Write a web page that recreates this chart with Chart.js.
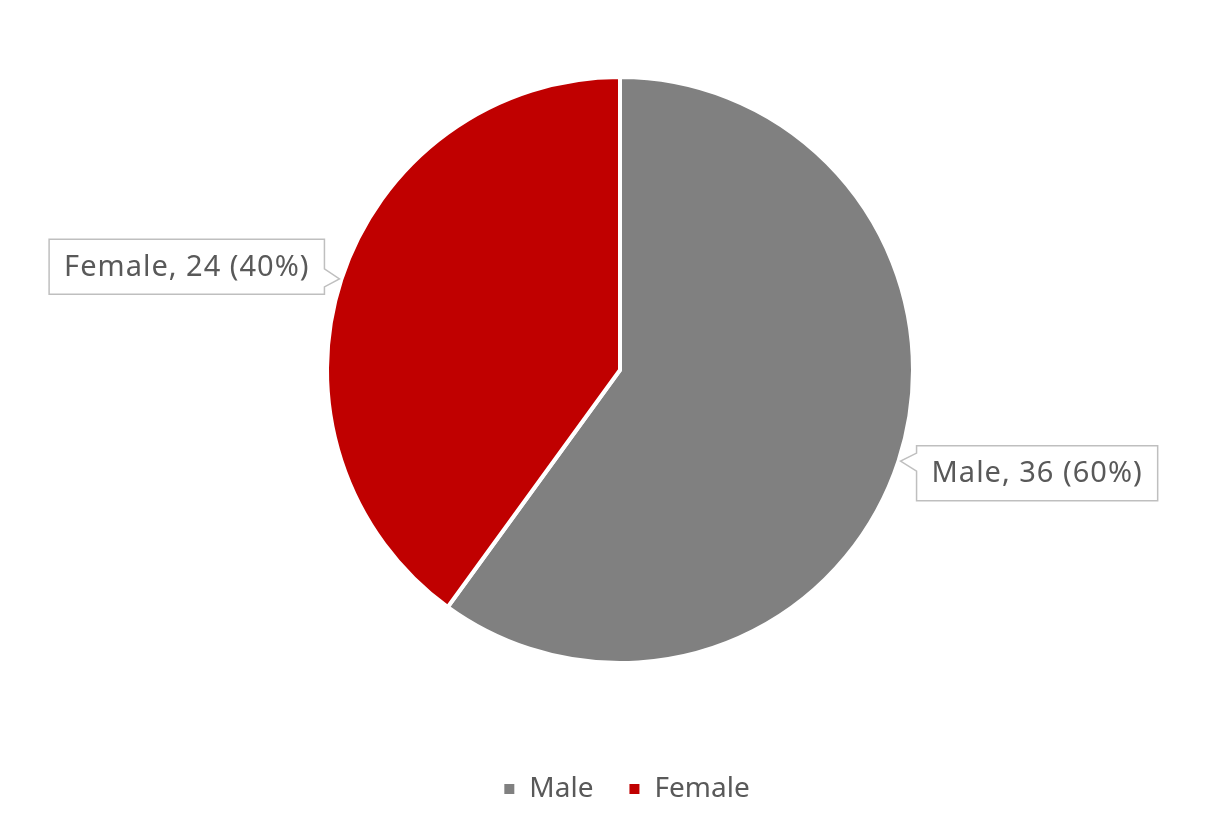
<!DOCTYPE html>
<html>
<head>
<meta charset="utf-8">
<script src="https://cdn.jsdelivr.net/npm/chart.js@4.4.0/dist/chart.umd.min.js"></script>
<style>
  html, body { margin: 0; padding: 0; background: #fff; }
  #wrap { width: 1210px; height: 826px; }
</style>
</head>
<body>
<div id="wrap"><canvas id="pie"></canvas></div>
<script>
const labels = ['Male', 'Female'];
const counts = [36, 24];
const colors = ['#808080', '#C00000'];

const FONT = '"Noto Sans", "Open Sans", sans-serif';
const TEXT = '#595959';

// callout boxes next to each slice
const calloutPlugin = {
  id: 'callouts',
  afterDatasetsDraw(chart) {
    const ctx = chart.ctx;
    const meta = chart.getDatasetMeta(0);
    const total = counts.reduce((a, b) => a + b, 0);
    ctx.save();
    ctx.font = '29px ' + FONT;
    ctx.letterSpacing = '1px';
    meta.data.forEach((arc, i) => {
      const mid = (arc.startAngle + arc.endAngle) / 2;
      const r = arc.outerRadius + 2;
      const tx = arc.x + Math.cos(mid) * r;
      const ty = arc.y + Math.sin(mid) * r;
      const txt = labels[i] + ', ' + counts[i] + ' (' + Math.round(counts[i] / total * 100) + '%)';
      const w = ctx.measureText(txt).width + 30;
      const h = 55;
      const left = Math.cos(mid) < 0;
      let bx, by;
      if (left) { bx = tx - 15 - w; by = ty - 12 - h / 2; }
      else { bx = tx + 16; by = ty + 12 - h / 2; }
      const py = ty;
      ctx.beginPath();
      if (left) {
        ctx.moveTo(bx, by);
        ctx.lineTo(bx + w, by);
        ctx.lineTo(bx + w, py - 10);
        ctx.lineTo(tx, py);
        ctx.lineTo(bx + w, py + 8);
        ctx.lineTo(bx + w, by + h);
        ctx.lineTo(bx, by + h);
      } else {
        ctx.moveTo(bx, by);
        ctx.lineTo(bx + w, by);
        ctx.lineTo(bx + w, by + h);
        ctx.lineTo(bx, by + h);
        ctx.lineTo(bx, py + 10);
        ctx.lineTo(tx, py);
        ctx.lineTo(bx, py - 8);
      }
      ctx.closePath();
      ctx.fillStyle = '#fff';
      ctx.fill();
      ctx.strokeStyle = '#BFBFBF';
      ctx.lineWidth = 1.5;
      ctx.stroke();
      ctx.fillStyle = TEXT;
      ctx.textAlign = 'center';
      ctx.textBaseline = 'middle';
      ctx.fillText(txt, bx + w / 2, by + h / 2 + 1);
    });
    ctx.restore();
  }
};

// legend drawn below the pie
const legendPlugin = {
  id: 'bottomLegend',
  afterDraw(chart) {
    const ctx = chart.ctx;
    ctx.save();
    ctx.font = '28px ' + FONT;
    const box = 10, gap = 15, between = 36;
    const widths = labels.map(l => ctx.measureText(l).width);
    let total = 0;
    widths.forEach((w, i) => { total += box + gap + w + (i < labels.length - 1 ? between : 0); });
    let x = 627 - total / 2;
    const y = 789;
    labels.forEach((l, i) => {
      ctx.fillStyle = colors[i];
      ctx.fillRect(x, y - box / 2, box, box);
      x += box + gap;
      ctx.fillStyle = TEXT;
      ctx.textAlign = 'left';
      ctx.textBaseline = 'middle';
      ctx.fillText(l, x, y);
      x += widths[i] + between;
    });
    ctx.restore();
  }
};

new Chart(document.getElementById('pie'), {
  type: 'pie',
  data: {
    labels: labels,
    datasets: [{
      data: counts,
      backgroundColor: colors,
      borderColor: '#ffffff',
      borderWidth: 4
    }]
  },
  options: {
    responsive: true,
    maintainAspectRatio: false,
    animation: false,
    layout: { padding: { left: 30, right: 0, top: 75, bottom: 161 } },
    plugins: {
      legend: { display: false },
      tooltip: { enabled: false }
    }
  },
  plugins: [calloutPlugin, legendPlugin]
});
</script>
</body>
</html>
